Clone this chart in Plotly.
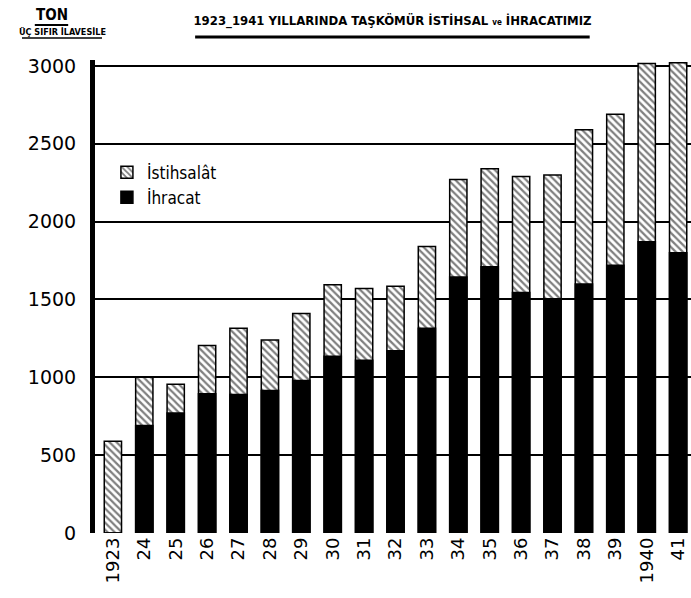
import plotly.graph_objects as go

years = ["1923", "24", "25", "26", "27", "28", "29", "30", "31", "32",
         "33", "34", "35", "36", "37", "38", "39", "1940", "41"]
istihsalat = [590, 1000, 955, 1205, 1315, 1240, 1410, 1595, 1570, 1585,
              1840, 2270, 2340, 2290, 2300, 2590, 2690, 3015, 3020]
ihracat = [0, 690, 770, 895, 890, 915, 980, 1135, 1110, 1170,
           1315, 1645, 1710, 1545, 1505, 1600, 1720, 1870, 1800]
y_ticks = [0, 500, 1000, 1500, 2000, 2500, 3000]

fig = go.Figure()
fig.add_trace(go.Bar(
    x=list(range(len(years))), y=istihsalat, name="İstihsalât",
    width=0.55,
    marker=dict(color="white", line=dict(color="black", width=1.5),
                pattern=dict(shape="\\", fgcolor="black", bgcolor="white",
                             size=5, solidity=0.45)),
))
fig.add_trace(go.Bar(
    x=list(range(len(years))), y=ihracat, name="İhracat",
    width=0.55,
    marker=dict(color="black", line=dict(color="black", width=1.5)),
))

font_cond = "DejaVu Sans Condensed, DejaVu Sans, sans-serif"

fig.update_layout(
    width=691, height=598,
    barmode="overlay",
    paper_bgcolor="white", plot_bgcolor="white",
    margin=dict(l=95, r=0, t=60, b=65),
    showlegend=True,
    legend=dict(x=0.02, y=0.80, xanchor="left", yanchor="top",
                bgcolor="rgba(0,0,0,0)", borderwidth=0,
                font=dict(family=font_cond, size=17, color="black"),
                traceorder="normal", itemwidth=30, tracegroupgap=4),
    xaxis=dict(
        tickmode="array", tickvals=list(range(len(years))), ticktext=years,
        range=[-0.57, 18.41], tickangle=-90, showgrid=False,
        showline=False, zeroline=False, ticks="", automargin=False,
        tickfont=dict(family="DejaVu Sans, sans-serif", size=18, color="black"),
    ),
    yaxis=dict(
        range=[0, 3038], tickmode="array", tickvals=y_ticks,
        ticktext=[str(v) for v in y_ticks],
        showgrid=True, gridcolor="black", gridwidth=2,
        showline=True, linecolor="black", linewidth=5,
        zeroline=False, ticks="", ticklabelstandoff=10, automargin=False,
        tickfont=dict(family="DejaVu Sans, sans-serif", size=19, color="black"),
    ),
    title=dict(
        text="<b>1923_1941 YILLARINDA TAŞKÖMÜR İSTİHSAL <span style='font-size:8px'>ve</span> İHRACATIMIZ</b>",
        x=0.568, xanchor="center", y=0.965, yanchor="middle",
        font=dict(family=font_cond, size=13, color="black"),
    ),
)

fig.add_annotation(text="<b>TON</b>", xref="paper", yref="paper",
                   x=-0.072, y=1.095, xanchor="center", yanchor="middle",
                   showarrow=False,
                   font=dict(family=font_cond, size=15, color="black"))
fig.add_annotation(text="<b>ÜÇ SIFIR İLAVESİLE</b>", xref="paper", yref="paper",
                   x=-0.055, y=1.059, xanchor="center", yanchor="middle",
                   showarrow=False,
                   font=dict(family=font_cond, size=9, color="black"))

# underlines
fig.add_shape(type="line", xref="paper", yref="paper",
              x0=0.168, x1=0.830, y0=1.0486, y1=1.0486,
              line=dict(color="black", width=3))
fig.add_shape(type="line", xref="paper", yref="paper",
              x0=-0.101, x1=-0.045, y0=1.074, y1=1.074,
              line=dict(color="black", width=2))
fig.add_shape(type="line", xref="paper", yref="paper",
              x0=-0.1225, x1=0.0117, y0=1.0465, y1=1.0465,
              line=dict(color="black", width=1.5))

fig.write_html("out.html", config={"displayModeBar": False},
               post_script="document.body.style.margin='0';")
